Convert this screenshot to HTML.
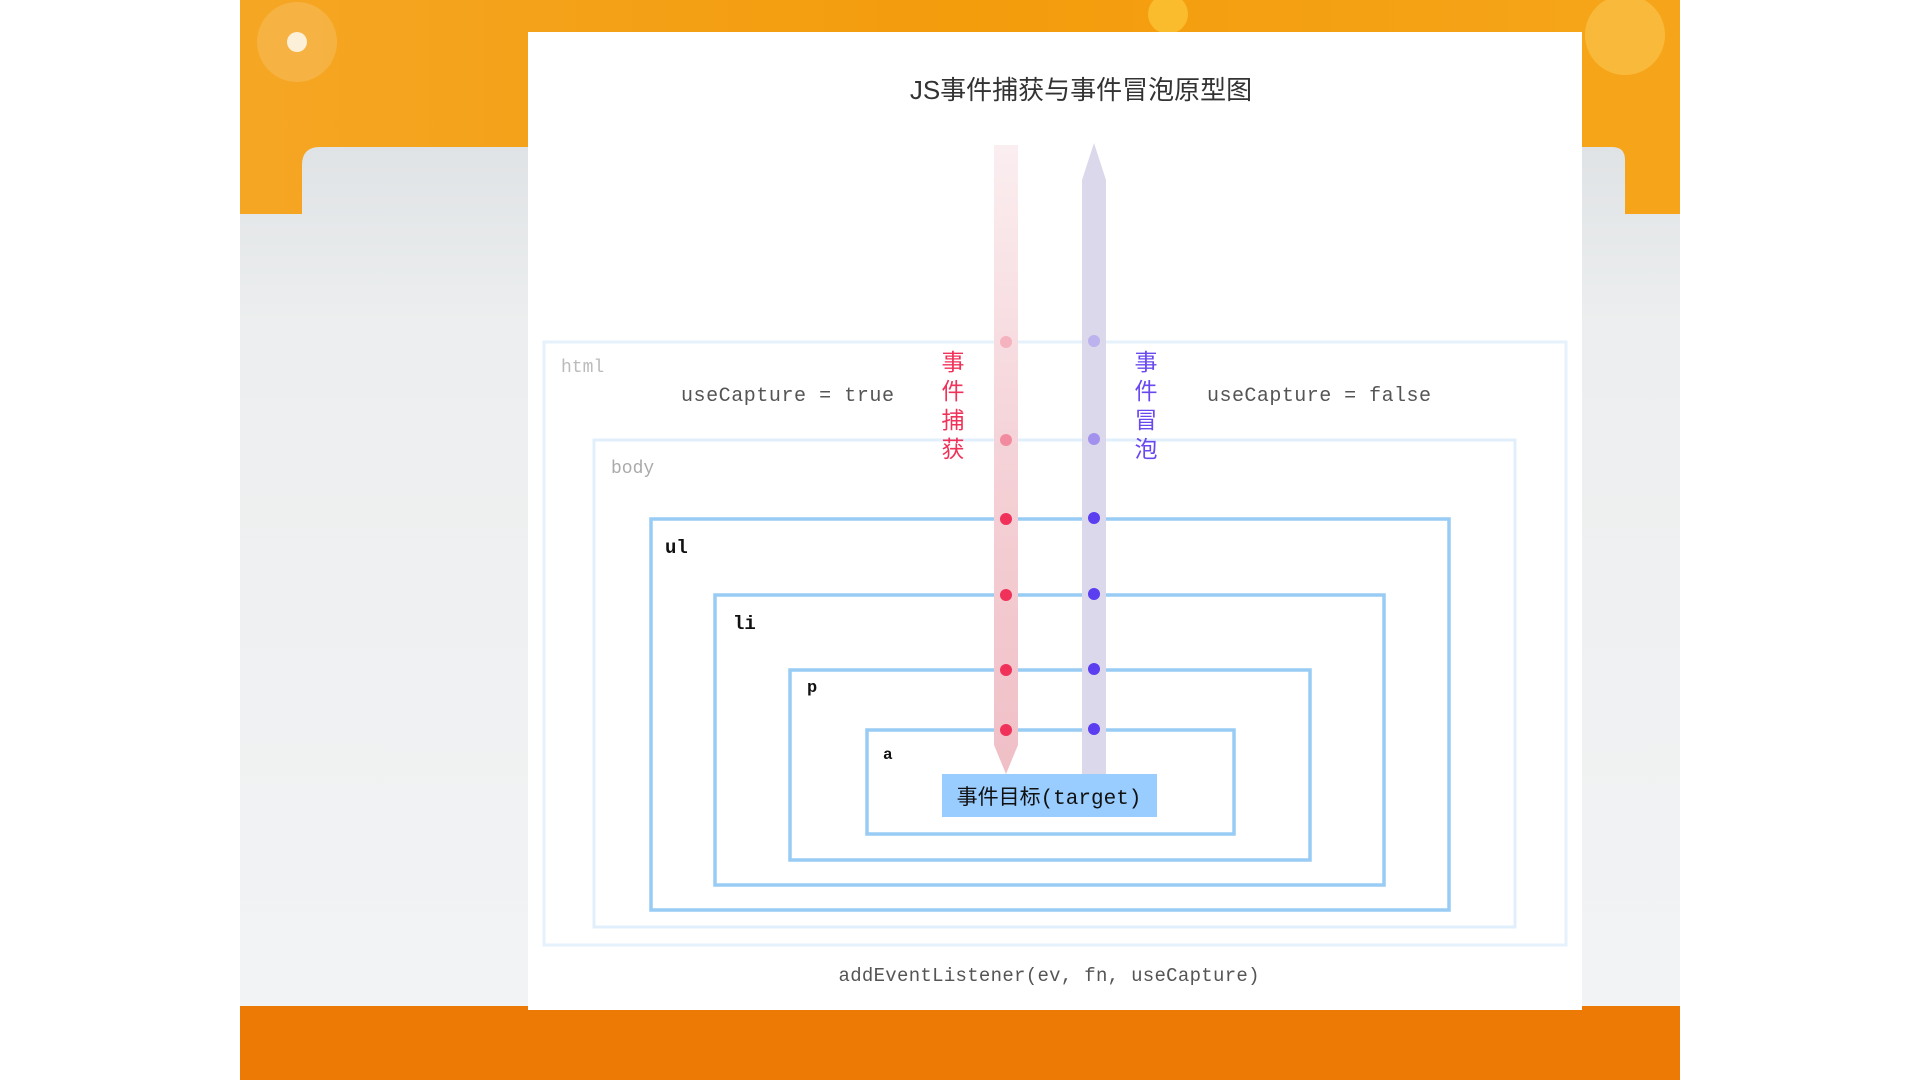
<!DOCTYPE html>
<html><head><meta charset="utf-8"><style>
html,body{margin:0;padding:0;width:1920px;height:1080px;overflow:hidden;background:#fff;}
</style></head><body>
<svg width="1920" height="1080" viewBox="0 0 1920 1080" xmlns="http://www.w3.org/2000/svg">
<defs>
<linearGradient id="bgGrey" x1="0" y1="0" x2="0" y2="1"><stop offset="0" stop-color="#d6dadd"/><stop offset="0.3" stop-color="#eceeef"/><stop offset="1" stop-color="#f3f4f5"/></linearGradient>
<linearGradient id="orangeTop" x1="0" y1="0" x2="1" y2="0"><stop offset="0" stop-color="#f5a623"/><stop offset="0.5" stop-color="#f39c0c"/><stop offset="1" stop-color="#f6a51a"/></linearGradient>
<linearGradient id="capG" x1="0" y1="0" x2="0" y2="1"><stop offset="0" stop-color="#fbeef0"/><stop offset="0.5" stop-color="#f4d2d7"/><stop offset="1" stop-color="#f0bfc6"/></linearGradient>
</defs>
<rect x="240" y="0" width="1440" height="1080" fill="url(#bgGrey)"/>
<path d="M240 0 H1680 V214 H1625 V160 Q1625 147 1612 147 H320 Q302 147 302 165 V214 H240 Z" fill="url(#orangeTop)"/>
<circle cx="297" cy="42" r="40" fill="#fff" opacity="0.15"/>
<circle cx="297" cy="42" r="10" fill="#fff" opacity="0.8"/>
<circle cx="1625" cy="35" r="40" fill="#ffe27a" opacity="0.35"/>
<circle cx="1168" cy="14" r="20" fill="#ffd84a" opacity="0.5"/>
<rect x="240" y="1006" width="1440" height="74" fill="#ee7a06"/>
<rect x="528" y="32" width="1054" height="978" fill="#fff"/>
<text x="1081" y="99" text-anchor="middle" font-family="Liberation Sans, Noto Sans CJK SC, sans-serif" font-size="26" fill="#333">JS事件捕获与事件冒泡原型图</text>
<g id="boxes"></g>
<g id="arrows"></g>
<g font-family="Liberation Mono, monospace">
<text x="561" y="372" font-size="18" fill="#bbb">html</text>
<text x="611" y="473" font-size="18" fill="#aaa">body</text>
<text x="665" y="553" font-size="19" font-weight="bold" fill="#111">ul</text>
<text x="733" y="629" font-size="19" font-weight="bold" fill="#111">li</text>
<text x="807" y="692" font-size="17" font-weight="bold" fill="#111">p</text>
<text x="883" y="759" font-size="16" font-weight="bold" fill="#111">a</text>
<text x="681" y="401" font-size="20" fill="#555" textLength="213">useCapture = true</text>
<text x="1207" y="401" font-size="20" fill="#555" textLength="224">useCapture = false</text>
<text x="1049" y="981" text-anchor="middle" font-size="19" fill="#555" textLength="421">addEventListener(ev, fn, useCapture)</text>
</g>
<g font-family="Liberation Sans, Noto Sans CJK SC, sans-serif" font-size="23" text-anchor="middle">
<g fill="#f0325a"><text x="953" y="370">事</text><text x="953" y="399">件</text><text x="953" y="428">捕</text><text x="953" y="457">获</text></g>
<g fill="#6a48f0"><text x="1146" y="370">事</text><text x="1146" y="399">件</text><text x="1146" y="428">冒</text><text x="1146" y="457">泡</text></g>
</g>
<rect x="942" y="774" width="215" height="43" fill="#99ccff"/>
<text x="1049" y="804" text-anchor="middle" font-family="Liberation Mono, Noto Sans CJK SC, monospace" font-size="21" fill="#111">事件目标(target)</text>
<script>
const levels = ['html','body','ul','li','p','a'];
const boxLeft = [544,594,651,715,790,867];
const boxTop = [342,440,519,595,670,730];
const boxRight = [1566,1515,1449,1384,1310,1234];
const boxBottom = [945,927,910,885,860,834];
const boxStroke = ['#e6f2fb','#e0effb','#99ccf5','#99ccf5','#99ccf5','#99ccf5'];
const dotAlpha = [0.25,0.45,1,1,1,1];
const NS='http://www.w3.org/2000/svg';
const bg=document.getElementById('boxes');
levels.forEach((lv,i)=>{
  const r=document.createElementNS(NS,'rect');
  r.setAttribute('x',boxLeft[i]);r.setAttribute('y',boxTop[i]);
  r.setAttribute('width',boxRight[i]-boxLeft[i]);r.setAttribute('height',boxBottom[i]-boxTop[i]);
  r.setAttribute('fill','none');r.setAttribute('stroke',boxStroke[i]);r.setAttribute('stroke-width',i<2?3:3.5);
  
  
  bg.appendChild(r);
});
const ag=document.getElementById('arrows');
const capX=1006, bubX=1094, w=24;
const cap=document.createElementNS(NS,'path');
cap.setAttribute('d',`M${capX-w/2} 145 H${capX+w/2} V745 L${capX} 774 L${capX-w/2} 745 Z`);
cap.setAttribute('fill','url(#capG)');


ag.appendChild(cap);
const bub=document.createElementNS(NS,'path');
bub.setAttribute('d',`M${bubX-w/2} 180 L${bubX} 143 L${bubX+w/2} 180 V774 H${bubX-w/2} Z`);
bub.setAttribute('fill','#dcd8ec');


ag.appendChild(bub);
levels.forEach((lv,i)=>{
  const c=document.createElementNS(NS,'circle');
  c.setAttribute('cx',capX);c.setAttribute('cy',boxTop[i]);c.setAttribute('r',6);
  c.setAttribute('fill','#f0325a');c.setAttribute('opacity',dotAlpha[i]);
  
  
  ag.appendChild(c);
  const d=document.createElementNS(NS,'circle');
  d.setAttribute('cx',bubX);d.setAttribute('cy',boxTop[i]-1);d.setAttribute('r',6);
  d.setAttribute('fill','#5a3ef0');d.setAttribute('opacity',dotAlpha[i]);
  
  
  ag.appendChild(d);
});
</script>
</svg>
</body></html>
